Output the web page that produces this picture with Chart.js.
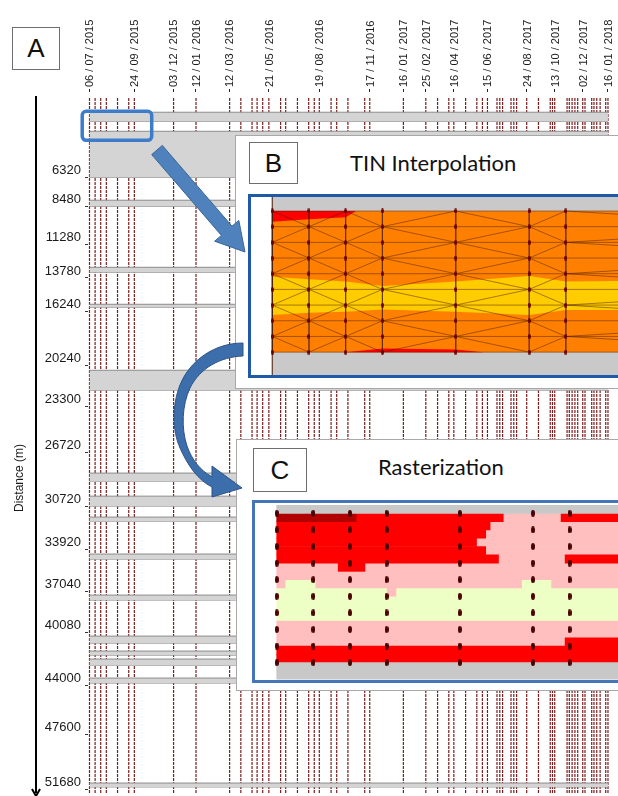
<!DOCTYPE html>
<html>
<head>
<meta charset="utf-8">
<title>Profile surveys - TIN interpolation and rasterization</title>
<script src="https://cdn.jsdelivr.net/npm/chart.js@4.4.1/dist/chart.umd.min.js"></script>
<style>
  html, body { margin: 0; padding: 0; background: #fff; }
  body { position: relative; width: 618px; height: 796px; overflow: hidden; font-family: 'Liberation Sans', Arial, sans-serif; }
  canvas { display: block; }
  #chartA { position: absolute; left: 0; top: 0; }
  .tag { position: absolute; box-sizing: border-box; border: 1px solid #6e6e6e; background: #fff; text-align: center; font-size: 26px; color: #111; }
  .panel { position: absolute; box-sizing: border-box; border: 1px solid #a8a8a8; background: #fff; }
  .title { position: absolute; font-family: Lato, 'Open Sans', sans-serif; font-size: 22px; line-height: 26px; color: #111; white-space: nowrap; }
  .frame { position: absolute; border: 3px solid #1f5aa8; background: #fff; }
  #arrows { position: absolute; left: 0; top: 0; pointer-events: none; }
</style>
</head>
<body>
<canvas id="chartA" width="618" height="796"></canvas>
<div class="tag" style="left:12px;top:27px;width:48px;height:43px;line-height:41px">A</div>

<div class="panel" style="left:235px;top:135px;width:400px;height:254px">
  <div class="tag" style="left:13px;top:6px;width:49px;height:42px;line-height:40px">B</div>
  <div class="title" style="left:114px;top:14px">TIN Interpolation</div>
  <div class="frame" style="left:12px;top:58px;width:367px;height:178px">
    <canvas id="chartB" width="367" height="178"></canvas>
  </div>
</div>

<div class="panel" style="left:236px;top:439px;width:400px;height:252px">
  <div class="tag" style="left:16px;top:8px;width:54px;height:44px;line-height:42px">C</div>
  <div class="title" style="left:141px;top:14px">Rasterization</div>
  <div class="frame" style="left:15px;top:60px;width:363px;height:177px;border-color:#4576b8">
    <canvas id="chartC" width="363" height="175" style="margin-top:2px"></canvas>
  </div>
</div>

<svg id="arrows" width="618" height="796">
  <polygon points="162.3,145.4 232,226.2 238.8,220.4 245,252 214.6,241.2 221.4,235.4 151.7,154.6" fill="#4f81bd" stroke="#3a6595" stroke-width="1"/>
  <path d="M 243 343 C 215 343, 190 360, 180 385 C 172 405, 172 430, 180 448 C 188 466, 198 480, 212 487 L 212 497 L 242 488 L 212 466 L 212 477 C 200 470, 192 460, 187 446 C 181 428, 182 405, 190 388 C 200 368, 220 357, 243 356 Z" fill="#3d6eac" stroke="#2d5286" stroke-width="1"/>
</svg>

<script>
Chart.defaults.font.family = "'Liberation Sans', Arial, sans-serif"
Chart.defaults.color = '#1a1a1a'

// survey dates (one profile each)
const surveyDates = [
  '06/07/2015', '16/07/2015', '26/07/2015', '05/08/2015', '25/08/2015', '14/09/2015', '24/09/2015',
  '03/12/2015', '12/01/2016', '12/03/2016', '01/04/2016', '21/04/2016', '30/04/2016', '10/05/2016',
  '21/05/2016', '11/06/2016', '20/06/2016', '11/07/2016', '31/07/2016', '10/08/2016', '19/08/2016',
  '09/09/2016', '19/09/2016', '09/10/2016', '08/11/2016', '17/11/2016', '16/01/2017', '25/02/2017',
  '18/03/2017', '07/04/2017', '16/04/2017', '07/05/2017', '27/05/2017', '06/06/2017', '15/06/2017',
  '02/07/2017', '07/07/2017', '12/07/2017', '27/07/2017', '01/08/2017', '06/08/2017', '24/08/2017',
  '14/09/2017', '05/10/2017', '09/10/2017', '13/10/2017', '04/11/2017', '08/11/2017', '13/11/2017',
  '18/11/2017', '23/11/2017', '02/12/2017', '06/12/2017', '18/12/2017', '22/12/2017', '27/12/2017',
  '02/01/2018', '12/01/2018', '16/01/2018'
]
const tickDates = [
  '06/07/2015', '24/09/2015', '03/12/2015', '12/01/2016', '12/03/2016', '21/05/2016', '19/08/2016',
  '17/11/2016', '16/01/2017', '25/02/2017', '16/04/2017', '15/06/2017', '24/08/2017', '13/10/2017',
  '02/12/2017', '16/01/2018'
]
const distTicks = [6320, 8480, 11280, 13780, 16240, 20240, 23300, 26720, 30720, 33920, 37040, 40080, 44000, 47600, 51680]
// distance ranges without data (m)
const greyBands = [
  [1500, 2170], [2910, 6320], [8020, 8470], [12990, 13360], [15730, 15950], [20620, 22100],
  [28240, 28840], [29950, 30690], [31500, 31800], [34240, 34620], [37280, 37650], [40320, 40840],
  [41430, 41730], [42020, 42470], [43430, 43800], [51210, 51500]
]
// zoomed window shown in B and C
const zoomWindow = { from: -13, to: 111, top: 1430, bottom: 3580 }

// B: TIN interpolation, measurement rows (m)
const tinRows = [2160, 2240, 2320, 2400, 2480, 2560, 2640, 2720, 2800, 2880]
const yellowTop = [2495, 2508, 2520, 2543, 2520, 2492, 2520, 2505]
const yellowBottom = [2691, 2679, 2674, 2662, 2674, 2691, 2665, 2665]
const redTopUpper = [[0, 2160], [22.8, 2160]]
const redTopLower = [[0, 2215], [10, 2202], [20, 2192], [22.8, 2160]]
const redBotUpper = [[20, 2880], [30, 2861], [50, 2866], [57.5, 2880]]
const redBotLower = [[20, 2880], [57.5, 2880]]

// C: raster, row centres (m) and runs [class, end day]
// classes: 0 grey, 1 dark red, 2 red, 3 pink, 4 pale yellow
const rasterDist = [2180, 2220, 2260, 2300, 2340, 2380, 2420, 2460, 2500, 2540, 2580, 2620, 2660, 2700, 2740, 2780, 2820, 2860]
const rasterRows = [
  [[1, 21.7], [2, 61.9], [3, 77.7], [2, 100]],
  [[2, 58.3], [3, 100]],
  [[2, 57.1], [3, 100]],
  [[2, 54.6], [3, 100]],
  [[2, 57.1], [3, 100]],
  [[2, 60.6], [3, 78.8], [2, 100]],
  [[3, 16.8], [2, 24.1], [3, 100]],
  [[3, 100]],
  [[3, 2.3], [4, 10.7], [3, 66.9], [4, 75.1], [3, 100]],
  [[4, 30.2], [3, 32.6], [4, 100]],
  [[4, 100]],
  [[4, 100]],
  [[4, 100]],
  [[3, 100]],
  [[3, 100]],
  [[3, 78.8], [2, 100]],
  [[2, 100]],
  [[2, 100]]
]
const rasterGreyDist = [2140, 2900, 2940]
const rasterColors = ['#c8c8c8', '#b00000', '#ff0000', '#ffbfbf', '#eeffc6']

const day0 = Date.UTC(2015, 6, 6)
function toDay (s) {
  const p = s.split('/').map(Number)
  return (Date.UTC(p[2], p[1] - 1, p[0]) - day0) / 86400000
}
function dotImage (w, h, color) {
  const c = document.createElement('canvas')
  c.width = w
  c.height = h
  const g = c.getContext('2d')
  g.fillStyle = color
  g.beginPath()
  g.ellipse(w / 2, h / 2, w / 2, h / 2, 0, 0, Math.PI * 2)
  g.fill()
  return c
}
const xy = (p) => ({ x: p[0], y: p[1] })

const surveyDays = surveyDates.map(toDay)
const insetDays = surveyDays.slice(0, 8)
const LINE_TOP = 450
const LINE_BOTTOM = 51950

// ---------- A: survey overview ----------
const datasetsA = []
greyBands.forEach(([top, bottom]) => {
  const x0 = surveyDays[0]
  const x1 = surveyDays[surveyDays.length - 1]
  datasetsA.push({
    data: [{ x: x0, y: top }, { x: x1, y: top }],
    fill: '+1', backgroundColor: '#d4d4d4', borderColor: '#8c8c8c', borderWidth: 1, pointRadius: 0, order: 0
  })
  datasetsA.push({
    data: [{ x: x0, y: bottom }, { x: x1, y: bottom }],
    fill: false, borderColor: '#8c8c8c', borderWidth: 1, pointRadius: 0, order: 0
  })
})
const surveyLines = []
surveyDays.forEach(d => {
  surveyLines.push({ x: d, y: LINE_TOP }, { x: d, y: LINE_BOTTOM }, { x: d, y: null })
})
datasetsA.push({
  data: surveyLines, borderColor: '#7d1c1c', borderWidth: 1.2, borderDash: [3, 1],
  pointRadius: 0, fill: false, spanGaps: false, order: 5
})

const overlayA = {
  id: 'overlayA',
  afterDatasetsDraw (chart) {
    const { ctx, scales: { x, y } } = chart
    const x0 = x.getPixelForValue(zoomWindow.from)
    const x1 = x.getPixelForValue(zoomWindow.to)
    const y0 = y.getPixelForValue(zoomWindow.top)
    const y1 = y.getPixelForValue(zoomWindow.bottom)
    ctx.save()
    ctx.strokeStyle = '#3d7cc9'
    ctx.lineWidth = 3.5
    ctx.beginPath()
    ctx.roundRect(x0, y0, x1 - x0, y1 - y0, 4)
    ctx.stroke()
    ctx.restore()
  },
  afterDraw (chart) {
    const { ctx } = chart
    ctx.save()
    ctx.strokeStyle = '#000'
    ctx.fillStyle = '#000'
    ctx.lineWidth = 2
    ctx.beginPath()
    ctx.moveTo(36, 96)
    ctx.lineTo(36, 793)
    ctx.stroke()
    ctx.beginPath()
    ctx.moveTo(32, 789)
    ctx.lineTo(36, 796)
    ctx.lineTo(40, 789)
    ctx.stroke()
    ctx.translate(20, 478)
    ctx.rotate(-Math.PI / 2)
    ctx.font = "12px 'Liberation Sans', Arial, sans-serif"
    ctx.textAlign = 'center'
    ctx.textBaseline = 'middle'
    ctx.fillStyle = '#1a1a1a'
    ctx.fillText('Distance (m)', 0, 0)
    ctx.restore()
  }
}

new Chart(document.getElementById('chartA'), {
  type: 'line',
  data: { datasets: datasetsA },
  options: {
    responsive: false,
    animation: false,
    devicePixelRatio: 1,
    events: [],
    layout: { padding: { left: 0, right: 7, top: 0, bottom: 0 }, autoPadding: false },
    plugins: { legend: { display: false }, tooltip: { enabled: false } },
    scales: {
      x: {
        type: 'linear',
        position: 'top',
        min: -2.68,
        max: 930.4,
        afterBuildTicks: (s) => { s.ticks = tickDates.map(t => ({ value: toDay(t) })) },
        afterFit: (s) => { s.height = 92; s.paddingLeft = 0; s.paddingRight = 0 },
        ticks: {
          autoSkip: false,
          minRotation: 90,
          maxRotation: 90,
          padding: 2,
          labelOffset: 14,
          font: { size: 11 },
          callback: (v, i) => tickDates[i].split('/').join(' / ')
        },
        grid: { drawOnChartArea: false, tickLength: 3, tickColor: '#222' },
        border: { display: false }
      },
      y: {
        type: 'linear',
        reverse: true,
        min: 0,
        max: 52170,
        afterBuildTicks: (s) => { s.ticks = distTicks.map(v => ({ value: v })) },
        afterFit: (s) => { s.width = 88; s.paddingTop = 0; s.paddingBottom = 0 },
        ticks: { padding: 4, labelOffset: -7, font: { size: 13 }, callback: (v) => String(v) },
        grid: { drawOnChartArea: false, tickLength: 3, tickColor: '#333' },
        border: { display: false }
      }
    }
  },
  plugins: [overlayA]
})

// ---------- B: TIN interpolation ----------
const yMinB = 2088.6
const yMaxB = 2996.7
const xEndB = insetDays[insetDays.length - 1]

const tinEdges = []
function seg (a, b) { tinEdges.push(xy(a), xy(b), { x: a[0], y: null }) }
insetDays.forEach((cx, i) => {
  tinRows.forEach((ry, k) => {
    const nx = insetDays[i + 1]
    const ny = tinRows[k + 1]
    if (nx !== undefined) seg([cx, ry], [nx, ry])
    if (ny !== undefined) seg([cx, ry], [cx, ny])
    if (nx !== undefined && ny !== undefined) {
      if ((i + k) % 2 === 0) seg([cx, ry], [nx, ny])
      else seg([cx, ny], [nx, ry])
    }
  })
})
seg([insetDays[0], yMinB], [insetDays[0], yMaxB])

const tinPoints = []
insetDays.forEach(d => tinRows.forEach(r => tinPoints.push({ x: d, y: r })))

const fillStyle = { pointRadius: 0, borderWidth: 0, borderColor: 'transparent' }
new Chart(document.getElementById('chartB'), {
  type: 'line',
  data: {
    datasets: [
      { ...fillStyle, data: [{ x: insetDays[0], y: yMinB }, { x: xEndB, y: yMinB }], fill: { value: yMaxB }, backgroundColor: '#c9c9c9', order: 10 },
      { ...fillStyle, data: [{ x: insetDays[0], y: tinRows[0] }, { x: xEndB, y: tinRows[0] }], fill: { value: tinRows[tinRows.length - 1] }, backgroundColor: '#ff8000', order: 9 },
      { ...fillStyle, data: insetDays.map((d, i) => ({ x: d, y: yellowTop[i] })), fill: '+1', backgroundColor: '#ffcc00', order: 8 },
      { ...fillStyle, data: insetDays.map((d, i) => ({ x: d, y: yellowBottom[i] })), fill: false, order: 8 },
      { ...fillStyle, data: redTopUpper.map(xy), fill: '+1', backgroundColor: '#ff0000', order: 7 },
      { ...fillStyle, data: redTopLower.map(xy), fill: false, order: 7 },
      { ...fillStyle, data: redBotUpper.map(xy), fill: '+1', backgroundColor: '#ff0000', order: 7 },
      { ...fillStyle, data: redBotLower.map(xy), fill: false, order: 7 },
      { data: tinEdges, borderColor: 'rgba(70, 25, 5, 0.6)', borderWidth: 0.8, pointRadius: 0, fill: false, spanGaps: false, order: 2 },
      { data: tinPoints, showLine: false, pointStyle: dotImage(3, 5, '#6b0000'), pointRadius: 3, order: 1 }
    ]
  },
  options: {
    responsive: false,
    animation: false,
    devicePixelRatio: 1,
    events: [],
    layout: { padding: 0, autoPadding: false },
    plugins: { legend: { display: false }, tooltip: { enabled: false } },
    scales: {
      x: { type: 'linear', min: -5.8, max: 94.2, display: false },
      y: { type: 'linear', reverse: true, min: yMinB, max: yMaxB, display: false }
    }
  }
})

// ---------- C: rasterization ----------
const datasetsC = rasterColors.map((c, i) => ({
  type: 'bar', indexAxis: 'y', grouped: false, backgroundColor: c, borderWidth: 0,
  barPercentage: 1, categoryPercentage: 1, data: [], order: 2
}))
rasterRows.forEach((runs, r) => {
  let start = insetDays[0]
  runs.forEach(([cls, end]) => {
    datasetsC[cls].data.push({ y: rasterDist[r], x: [start, end] })
    start = end
  })
})
rasterGreyDist.forEach(d => datasetsC[0].data.push({ y: d, x: [insetDays[0], 100] }))
datasetsC.push({
  type: 'scatter', data: tinPoints, pointStyle: dotImage(4, 7, '#4a0000'), pointRadius: 4, order: 0
})

new Chart(document.getElementById('chartC'), {
  type: 'bar',
  data: { datasets: datasetsC },
  options: {
    responsive: false,
    animation: false,
    devicePixelRatio: 1,
    events: [],
    layout: { padding: 0, autoPadding: false },
    plugins: { legend: { display: false }, tooltip: { enabled: false } },
    scales: {
      x: { type: 'linear', min: -5.93, max: 93.25, offset: false, display: false },
      y: { type: 'linear', reverse: true, min: 2120, max: 2963.8, offset: false, display: false }
    }
  }
})
</script>
</body>
</html>
